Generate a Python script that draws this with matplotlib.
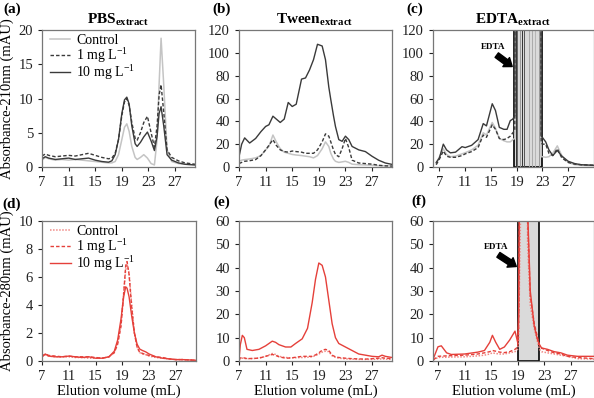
"""
Size-exclusion chromatograms of PBS, Tween and EDTA extracts (210 nm and 280 nm).
"""

import matplotlib
matplotlib.use("Agg")
import matplotlib.pyplot as plt

plt.rcParams["font.family"] = ["Liberation Serif", "DejaVu Serif"]
plt.rcParams["mathtext.fontset"] = "custom"
plt.rcParams["mathtext.rm"] = "Liberation Serif"
plt.rcParams["mathtext.it"] = "Liberation Serif:italic"
plt.rcParams["mathtext.bf"] = "Liberation Serif:bold"

labels = ["Control", "1 mg L$^{-1}$", "10 mg L$^{-1}$"]

# ---- (a) PBS extract, 210 nm ----
a_x = [7, 7.5, 8, 9, 10, 11, 12, 13, 14, 15, 16, 17, 17.5, 18, 18.5, 19, 19.4, 19.75, 20.1,
       20.5, 21, 21.3, 21.8, 22.3, 22.85, 23.4, 23.9, 24.3, 24.6, 24.9, 25.3, 25.8, 26.5,
       27.5, 28.5, 30]
a_ctrl = [1.0, 1.4, 1.2, 1.0, 1.1, 1.0, 1.1, 1.0, 0.9, 0.8, 0.7, 0.6, 0.6, 0.8, 1.8, 4.0, 5.8,
          6.3, 5.2, 3.0, 1.4, 1.1, 1.4, 1.8, 1.3, 0.5, 0.3, 4.0, 12.0, 18.8, 12.0, 2.5, 0.8,
          0.5, 0.4, 0.3]
a_1mg = [1.6, 1.9, 1.7, 1.5, 1.6, 1.7, 1.6, 1.8, 2.0, 1.7, 1.4, 1.2, 1.3, 2.0, 4.0, 7.5, 9.5,
         10.0, 9.0, 6.5, 4.2, 3.9, 5.0, 6.5, 7.4, 5.0, 2.9, 6.0, 10.5, 12.0, 8.0, 2.5, 1.4,
         0.9, 0.6, 0.4]
a_10mg = [1.2, 1.5, 1.3, 1.1, 1.2, 1.3, 1.1, 1.2, 1.3, 1.0, 0.8, 0.7, 0.9, 1.8, 4.0, 7.8, 9.8,
          10.2, 9.2, 6.0, 3.4, 3.0, 3.6, 4.4, 5.1, 3.8, 2.4, 4.5, 7.8, 8.8, 6.0, 1.8, 1.0,
          0.6, 0.4, 0.3]

# ---- (b) Tween extract, 210 nm ----
b_x = [7, 7.4, 7.85, 8.6, 9.5, 10.3, 11, 11.5, 12.1, 12.6, 13.2, 13.8, 14.4, 15, 15.6, 16.4,
       17, 17.6, 18.2, 18.8, 19.5, 20, 20.5, 20.8, 21.2, 21.5, 22, 22.5, 23, 23.5, 24, 25,
       26, 27, 28, 29, 30]
b_ctrl = [5, 6, 6.5, 7, 8, 10, 15, 18, 28, 22, 16, 13, 12, 11, 10.5, 10, 9.5, 9, 8, 10, 16,
          22, 18, 12, 7, 5, 4, 4.5, 5, 4, 2.5, 2, 1.8, 1.5, 1.2, 1.0, 1.0]
b_1mg = [3, 4, 5, 5.5, 6.5, 10, 15, 19, 24, 19, 15, 13.5, 13, 14, 13.5, 13, 12, 12, 12, 15,
         22, 29, 27, 22, 15, 11, 9, 16, 25, 17, 6, 3.5, 3, 2.5, 1.5, 1.0, 0.8]
b_10mg = [9, 20, 25.5, 21, 25, 31, 35.5, 37, 44.5, 42, 39, 42, 56.5, 53, 55, 77, 78, 85, 94,
          107.5, 106, 94, 70, 59, 45, 35.5, 24, 22.5, 27, 24, 18, 15, 13.5, 9.4, 5.9, 3.5, 2.3]

# ---- (c) EDTA extract, 210 nm ----
c_x = [6.5, 7.0, 7.6, 8.1, 8.7, 9.5, 10.5, 11, 12, 13, 13.8, 14.3, 15.2, 15.7, 16.3, 17,
       17.5, 18, 18.4, 18.7, 18.75, 22.75, 22.8, 23, 23.5, 24, 24.6, 25.3, 26, 27, 28, 29, 31]
c_ctrl = [3, 9, 16, 11, 9, 9.5, 11.5, 12.5, 15, 19, 30, 28, 39, 34, 25, 23, 22, 22, 24, 25,
          300, 300, 9, 9, 8.5, 9, 12, 18.5, 10, 4, 2, 1.5, 1]
c_1mg = [2, 7, 14, 9.5, 8.5, 8.5, 10, 11.5, 13.5, 17, 28, 26, 37, 33, 25, 24, 25, 27, 30, 32,
         300, 300, 21, 20, 20, 12, 10, 16, 8, 4, 2.5, 2, 1.5]
c_10mg = [4, 8, 20, 15, 12.4, 13, 17.8, 17, 19, 24, 38, 36, 55.4, 49.5, 34.7, 33, 33, 40.6, 42,
          45, 300, 300, 27, 25.8, 22, 15, 10, 14.5, 9.5, 5, 3, 2, 1.5]
c_edta = (18.6, 22.9)
c_edta_lines = [18.9, 19.1, 19.45, 19.85, 20.15, 20.9, 21.4, 21.9, 22.4]
c_edta_shades = ["#333333", "#666666", "#999999", "#333333", "#555555",
                 "#aaaaaa", "#aaaaaa", "#b5b5b5", "#9a9a9a"]

# ---- (d) PBS extract, 280 nm ----
d_x = [7, 7.5, 8, 9, 10, 11, 12, 13, 14, 15, 16, 17, 17.8, 18.3, 18.8, 19.2, 19.5, 19.7, 20.0,
       20.4, 20.8, 21.2, 21.6, 22, 22.5, 23, 24, 25, 26, 27, 28, 30]
d_ctrl = [0.3, 0.45, 0.35, 0.3, 0.3, 0.3, 0.25, 0.25, 0.2, 0.2, 0.2, 0.3, 0.6, 1.3, 2.6, 4.9,
          6.5, 6.9, 6.3, 4.0, 2.0, 1.0, 0.6, 0.5, 0.45, 0.35, 0.25, 0.2, 0.15, 0.1, 0.1, 0.05]
d_1mg = [0.35, 0.5, 0.4, 0.35, 0.3, 0.35, 0.3, 0.3, 0.3, 0.25, 0.2, 0.3, 0.6, 1.2, 2.5, 4.8,
         6.8, 7.1, 6.2, 3.8, 2.0, 1.0, 0.6, 0.55, 0.45, 0.4, 0.3, 0.25, 0.15, 0.1, 0.1, 0.05]
d_10mg = [0.3, 0.5, 0.35, 0.3, 0.3, 0.35, 0.3, 0.25, 0.3, 0.2, 0.2, 0.3, 0.7, 1.5, 3.0, 4.6,
          5.3, 5.2, 4.6, 3.2, 2.0, 1.2, 0.85, 0.75, 0.65, 0.5, 0.3, 0.2, 0.15, 0.1, 0.1, 0.05]

# ---- (e) Tween extract, 280 nm ----
e_x = [7, 7.2, 7.5, 7.8, 8.2, 9, 10, 11, 12, 12.5, 13, 14, 14.8, 15.5, 16.5, 17.3, 18, 18.5,
       19, 19.5, 20, 20.5, 21, 21.5, 22, 23, 24, 25, 26, 27, 28, 28.5, 29, 30]
e_ctrl = [0.5, 1.0, 1.2, 1.1, 1.0, 1.0, 1.3, 2.0, 3.2, 2.8, 2.0, 1.5, 1.3, 1.4, 1.5, 1.6, 1.8,
          2.3, 3.0, 3.8, 4.2, 4.0, 2.2, 1.6, 1.2, 0.9, 0.8, 0.7, 0.7, 0.7, 0.8, 0.9, 0.8, 0.7]
e_1mg = [0.5, 1.3, 1.5, 1.3, 1.0, 1.1, 1.2, 2.0, 2.8, 2.4, 1.8, 1.2, 1.3, 1.6, 2.0, 2.0, 2.0,
         2.6, 3.5, 4.6, 5.0, 4.5, 2.5, 1.8, 1.5, 1.2, 1.0, 0.9, 0.8, 1.0, 1.2, 1.4, 1.2, 1.0]
e_10mg = [0.5, 7, 11, 10, 5, 4.5, 5, 6.5, 8.5, 8, 7, 6, 6, 7.5, 9.5, 14, 25, 35, 42, 41, 36,
          26, 16, 10, 7.5, 6, 4.5, 3, 2.5, 2, 1.8, 2.5, 2, 1.5]

# ---- (f) EDTA extract, 280 nm ----
f_x = [6.3, 7, 7.5, 8.3, 9, 11, 13, 14, 14.8, 15.2, 15.7, 16.3, 17, 17.8, 18.6, 19.0, 19.15,
       19.3, 20.3, 20.5, 20.9, 21.5, 22, 22.3, 22.6, 23.5, 24.5, 25.5, 26.5, 28, 30.5]
f_ctrl = [0.5, 1.5, 1.6, 1.6, 1.7, 1.8, 2.2, 2.5, 3.0, 3.5, 3.2, 3.0, 3.0, 3.5, 4.0, 5.0, 9,
          40, 200, 50, 24, 14, 8, 5, 4, 3.5, 3.0, 2.5, 2.0, 1.0, 0.8]
f_1mg = [0.5, 2.0, 2.1, 2.2, 2.3, 2.5, 3.0, 3.5, 4.0, 4.5, 4.2, 3.8, 3.6, 4.0, 5.0, 6.0, 15,
         80, 250, 62, 28, 16, 10, 6.5, 5.5, 4.5, 3.5, 3.0, 2.0, 1.5, 1.0]
f_10mg = [1.0, 6.1, 6.5, 3.5, 2.8, 3.0, 3.8, 4.5, 8.0, 11.0, 8.0, 5.0, 6.0, 9.0, 12.8, 8.0,
          20, 90, 250, 65, 30, 15, 9, 7, 5.6, 5.0, 4.0, 3.5, 2.5, 2.0, 2.0]
f_edta = (19.1, 22.2)

x_ticks = [7, 11, 15, 19, 23, 27]

W, H = 594, 398


def pos(l, t, r, b):
    return [l / W, 1 - b / H, (r - l) / W, (b - t) / H]


def style(ax, xlim, ylim, yticks):
    ax.set_xlim(*xlim)
    ax.set_ylim(*ylim)
    ax.set_xticks(x_ticks)
    ax.set_yticks(yticks)
    ax.tick_params(direction="out", length=3, width=0.8, pad=3.5, labelsize=10.5,
                   colors="#222222")
    for s in ax.spines.values():
        s.set_color("#777777")
        s.set_linewidth(0.9)


def edta_box(ax, span, tx, ty, ax0, ay0, ax1, ay1):
    ax.axvspan(span[0], span[1], ymin=0, ymax=1, facecolor="#dadada",
               edgecolor="black", lw=1.2, zorder=1)
    ax.text(tx, ty, "EDTA", fontsize=6.5, fontweight="bold", ha="center", va="center")
    ax.annotate("", xy=(ax1, ay1), xytext=(ax0, ay0),
                arrowprops=dict(arrowstyle="simple,head_width=0.9,head_length=0.6,tail_width=0.45",
                                color="black", mutation_scale=9, shrinkA=0, shrinkB=0))


def legend(ax):
    ax.legend(loc="upper left", bbox_to_anchor=(0.05, 0.97), frameon=False, fontsize=10,
              handlelength=1.5, handletextpad=0.4, labelspacing=-0.1, borderpad=0,
              borderaxespad=0)


fig = plt.figure(figsize=(W / 100, H / 100), dpi=100)

gray_c = "#c4c4c4"
gray_d = "#3a3a3a"
red = "#e5403a"
red_l = "#f08a86"

# (a)
ax = fig.add_axes(pos(42, 30, 195, 167))
ax.plot(a_x, a_ctrl, color=gray_c, lw=1.1, label=labels[0])
ax.plot(a_x, a_1mg, color=gray_d, lw=1.0, ls=(0, (2.5, 1.5)), label=labels[1])
ax.plot(a_x, a_10mg, color=gray_d, lw=1.0, label=labels[2])
style(ax, (7, 30), (0, 20), [0, 5, 10, 15, 20])
ax.set_ylabel("Absorbance-210nm (mAU)", fontsize=10.5, labelpad=3)
legend(ax)

# (b)
ax = fig.add_axes(pos(239, 30, 392, 167))
ax.plot(b_x, b_ctrl, color=gray_c, lw=1.1)
ax.plot(b_x, b_1mg, color=gray_d, lw=1.0, ls=(0, (2.5, 1.5)))
ax.plot(b_x, b_10mg, color=gray_d, lw=1.0)
style(ax, (7, 30), (0, 120), range(0, 121, 20))

# (c)
ax = fig.add_axes(pos(433, 30, 594, 167))
edta_box(ax, c_edta, 15.4, 105, 15.9, 98, 18.3, 88)
for xv, cl in zip(c_edta_lines, c_edta_shades):
    ax.axvline(xv, color=cl, lw=0.7, zorder=1.5)
ax.plot(c_x, c_ctrl, color=gray_c, lw=1.1, zorder=2)
ax.plot(c_x, c_1mg, color=gray_d, lw=1.0, ls=(0, (2.5, 1.5)), zorder=2)
ax.plot(c_x, c_10mg, color=gray_d, lw=1.0, zorder=2)
style(ax, (6.0, 31), (0, 120), range(0, 121, 20))

# (d)
ax = fig.add_axes(pos(42, 221, 196, 361))
ax.plot(d_x, d_ctrl, color=red_l, lw=1.1, ls=(0, (1, 1)), label=labels[0])
ax.plot(d_x, d_1mg, color=red, lw=1.0, ls=(0, (2.5, 1.5)), label=labels[1])
ax.plot(d_x, d_10mg, color=red, lw=1.0, label=labels[2])
style(ax, (7, 30), (0, 10), range(0, 11, 2))
ax.set_ylabel("Absorbance-280nm (mAU)", fontsize=10.5, labelpad=3)
ax.set_xlabel("Elution volume (mL)", fontsize=10.5, labelpad=1)
legend(ax)

# (e)
ax = fig.add_axes(pos(239, 221, 392, 361))
ax.plot(e_x, e_ctrl, color=red_l, lw=1.1, ls=(0, (1, 1)))
ax.plot(e_x, e_1mg, color=red, lw=1.0, ls=(0, (2.5, 1.5)))
ax.plot(e_x, e_10mg, color=red, lw=1.0)
style(ax, (7, 30), (0, 60), range(0, 61, 10))
ax.set_xlabel("Elution volume (mL)", fontsize=10.5, labelpad=1)

# (f)
ax = fig.add_axes(pos(433, 221, 594, 361))
edta_box(ax, f_edta, 15.75, 48.7, 16.1, 45.5, 18.8, 40.5)
ax.plot(f_x, f_ctrl, color=red_l, lw=1.1, ls=(0, (1, 1)), zorder=2)
ax.plot(f_x, f_1mg, color=red, lw=1.0, ls=(0, (2.5, 1.5)), zorder=2)
ax.plot(f_x, f_10mg, color=red, lw=1.0, zorder=2)
style(ax, (6.25, 30.5), (0, 60), range(0, 61, 10))
ax.set_xlabel("Elution volume (mL)", fontsize=10.5, labelpad=1)

# titles and panel letters
titles = [r"$\mathbf{PBS}_{\mathbf{extract}}$", r"$\mathbf{Tween}_{\mathbf{extract}}$",
          r"$\mathbf{EDTA}_{\mathbf{extract}}$"]
title_x = [118, 315, 513]
for t, xp in zip(titles, title_x):
    fig.text(xp / W, 1 - 20 / H, t, fontsize=11, ha="center", va="center")

letters = ["(a)", "(b)", "(c)", "(d)", "(e)", "(f)"]
letter_xy = [(12, 9), (222, 9), (415, 9), (12, 204), (222, 202), (419, 201)]
for t, (xp, yp) in zip(letters, letter_xy):
    fig.text(xp / W, 1 - yp / H, t, fontsize=11, fontweight="bold", ha="center", va="center")

fig.savefig("out.png", dpi=100)
